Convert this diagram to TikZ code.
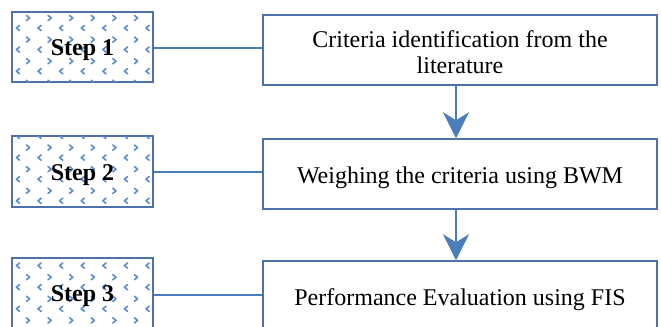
\documentclass[tikz,border=0pt]{standalone}
\usepackage{fontspec}
\setmainfont{Liberation Serif}
\usetikzlibrary{arrows.meta}
\definecolor{boxline}{RGB}{79,113,170}
\definecolor{conn}{RGB}{74,126,187}
\definecolor{chev}{RGB}{95,140,205}
\tikzset{
  stepbox/.style={draw=boxline, line width=1.1pt, fill=white, minimum width=105.75pt, minimum height=52.5pt, inner sep=0pt, font=\fontsize{18pt}{19.5pt}\selectfont\bfseries},
  steplabel/.style={inner sep=0pt, font=\fontsize{18pt}{19.5pt}\selectfont\bfseries},
  taskbox/.style={draw=boxline, line width=1.1pt, fill=white, minimum width=295.5pt, minimum height=52.5pt, inner sep=0pt, align=center, font=\fontsize{18pt}{19.5pt}\selectfont},
  tasklabel/.style={inner sep=0pt, align=center, font=\fontsize{18pt}{19.5pt}\selectfont},
  link/.style={draw=conn, line width=1.3pt},
  flow/.style={draw=conn, line width=2pt, -{Stealth[length=19.5pt, width=19.5pt, inset=6pt]}},
  chevline/.style={draw=chev, line width=1.2pt, line cap=round, line join=round}
}
\begin{document}
\begin{tikzpicture}[x=0.75pt, y=-0.75pt]
\useasboundingbox (0,0) rectangle (661,327);
\clip (0,0) rectangle (661,327);
% step boxes (background)
\node[stepbox] (s1) at (82.5,47) {};
\node[stepbox] (s2) at (82.5,171.5) {};
\node[stepbox] (s3) at (82.5,293) {};
% chevron pattern
\foreach \s in {s1,s2,s3}{
  \begin{scope}
    \clip (\s.south west) rectangle (\s.north east);
    \foreach \j in {0,...,15}{
      \foreach \i in {0,...,6}{
        \pgfmathsetmacro{\cx}{18+21.6*\i}
        \pgfmathsetmacro{\cy}{28+21.6*\j-21.6}
        \draw[chevline] (\cx+1.6,\cy-2.6) -- (\cx-1.6,\cy) -- (\cx+1.6,\cy+2.6);
        \pgfmathsetmacro{\dx}{28+21.6*\i}
        \pgfmathsetmacro{\dy}{18+21.6*\j-21.6}
        \draw[chevline] (\dx-1.6,\dy-2.6) -- (\dx+1.6,\dy) -- (\dx-1.6,\dy+2.6);
      }
    }
  \end{scope}
  \draw[draw=boxline, line width=1.1pt] (\s.south west) rectangle (\s.north east);
}
\node[steplabel] (t1) at ([yshift=-2.5pt]s1.center) {Step 1};
\node[steplabel] (t2) at ([yshift=-2.5pt]s2.center) {Step 2};
\node[steplabel] (t3) at ([yshift=-2.5pt]s3.center) {Step 3};
% task boxes
\node[taskbox] (b1) at (460,50) {};
\node[taskbox] (b2) at (460,174) {};
\node[taskbox] (b3) at (460,296) {};
\node[tasklabel] (l1) at ([yshift=-1.5pt]b1.center) {Criteria identification from the\\literature};
\node[tasklabel] (l2) at ([yshift=-2.5pt]b2.center) {Weighing the criteria using BWM};
\node[tasklabel] (l3) at ([yshift=-3pt]b3.center) {Performance Evaluation using FIS};
% connectors
\draw[link] ([yshift=-1pt]s1.east) -- ([yshift=-1pt]s1.east -| b1.west);
\draw[link] ([yshift=-0.4pt]s2.east) -- ([yshift=-0.4pt]s2.east -| b2.west);
\draw[link] ([yshift=-1.5pt]s3.east) -- ([yshift=-1.5pt]s3.east -| b3.west);
\draw[flow] ([xshift=-3pt]b1.south) -- ([xshift=-3pt]b2.north);
\draw[flow] ([xshift=-3pt]b2.south) -- ([xshift=-3pt]b3.north);
\end{tikzpicture}
\end{document}
